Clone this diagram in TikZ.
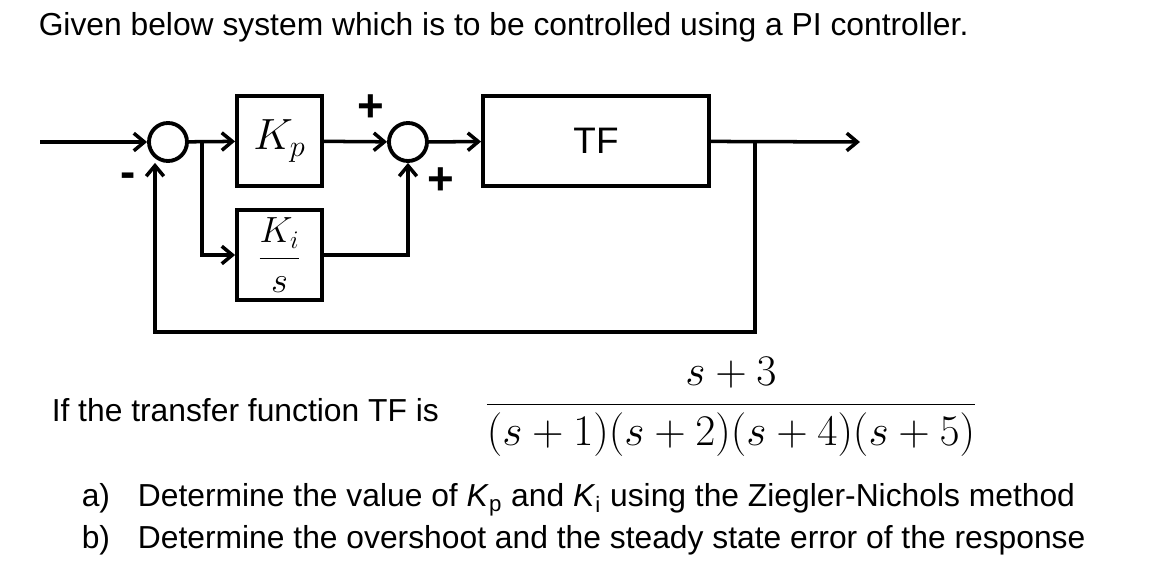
\documentclass[tikz,border=0pt]{standalone}
\usepackage{fontspec}
\setmainfont{Liberation Sans}
\usetikzlibrary{arrows.meta}
\begin{document}
\begin{tikzpicture}[x=0.02cm,y=-0.02cm,
  line width=2pt,
  blk/.style={draw,line width=2.2pt,minimum width=85*0.02cm,minimum height=90*0.02cm,inner sep=0pt},
  sum/.style={draw,circle,line width=2.2pt,minimum size=38*0.02cm,inner sep=0pt},
  arr/.style={-{Straight Barb[length=6pt,width=10pt,line width=2pt]}},
  txt/.style={font=\fontsize{18.1pt}{21pt}\selectfont,anchor=west,inner sep=0pt}]
\useasboundingbox (0,0) rectangle (1153,587);
\node[txt] (title) at (37,27) {Given below system which is to be controlled using a PI controller.};
\node[sum] (s1) at (168,142) {};
\node[blk] (kp) at (279.5,141) {\fontsize{24pt}{28pt}\selectfont$K_p$};
\node[blk] (ki) at (279.5,255) {\fontsize{21pt}{25pt}\selectfont$\displaystyle\frac{K_i}{s}$};
\node[sum] (s2) at (408,142) {};
\node[blk,minimum width=226*0.02cm] (tf) at (596,141) {\fontsize{21pt}{25pt}\selectfont TF};
\coordinate (in) at (40,142);
\coordinate (out) at (860,142);
\coordinate (br) at (202,142);
\coordinate (fb) at (755,142);
\coordinate (fbl) at (155,332);
\draw[arr] (in) -- (s1);
\draw[arr] (s1) -- (kp);
\draw[arr] (br) |- (ki);
\draw[arr] (kp) -- (s2);
\draw[arr] (ki.east) -| (s2);
\draw[arr] (s2) -- (tf);
\draw[arr] (tf) -- (out);
\draw[arr] (fb) |- (fbl) -- (fbl |- s1.south);
\node[font=\fontsize{26pt}{26pt}\selectfont\bfseries,inner sep=0pt] (p1) at (371,108) {+};
\node[font=\fontsize{26pt}{26pt}\selectfont\bfseries,inner sep=0pt] (p2) at (441,181) {+};
\node[font=\fontsize{26pt}{26pt}\selectfont\bfseries,inner sep=0pt] (m1) at (128,180) {-};
\node[txt] (if) at (50,410) {If the transfer function TF is};
\node[inner sep=0pt,font=\fontsize{27pt}{31pt}\selectfont] (frac) at (731,407) {$\displaystyle\frac{\;s+3\;}{(s+1)(s+2)(s+4)(s+5)}$};
\node[txt] (qa) at (80,500) {a)\hspace{0.6em} Determine the value of \textit{K}\textsubscript{p} and \textit{K}\textsubscript{i} using the Ziegler-Nichols method};
\node[txt] (qb) at (80,540) {b)\hspace{0.6em} Determine the overshoot and the steady state error of the response};
\end{tikzpicture}
\end{document}
